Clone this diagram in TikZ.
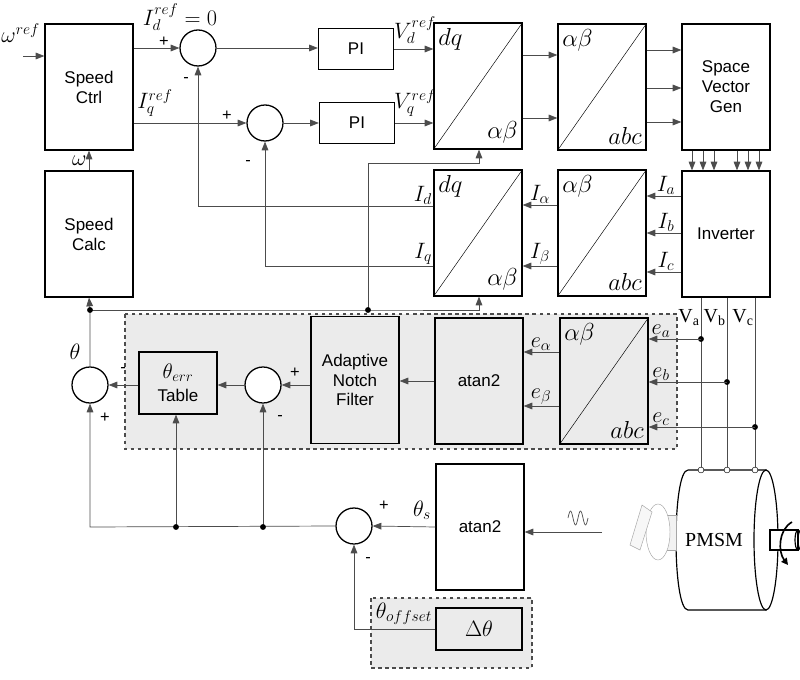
\RequirePackage{fix-cm}
\documentclass[tikz,border=0pt]{standalone}
\usepackage{fontspec}
\usetikzlibrary{arrows.meta}
\newfontfamily\arialf{Liberation Sans}
\newfontfamily\timesf{Liberation Serif}
\begin{document}
\begin{tikzpicture}[x=0.3mm, y=-0.3mm, >={Triangle[length=2.6mm,width=2mm]},
  blk/.style={draw, line width=1.1pt, fill=white, font=\arialf\fontsize{14.5}{17}\selectfont, align=center, minimum width=26.4mm, minimum height=37.8mm},
  gblk/.style={blk, fill=black!8},
  pi node/.style={blk, minimum width=22.5mm, minimum height=12.3mm},
  sum/.style={draw, line width=1.1pt, circle, fill=white, minimum size=10.8mm, inner sep=0pt},
  sig/.style={draw=black!70, line width=0.6pt},
  lbl/.style={font=\fontsize{19}{21}\selectfont, inner sep=1pt},
  sgn/.style={font=\arialf\fontsize{14}{16}\selectfont, inner sep=0pt},
  reg/.style={draw=black!70, dashed, line width=0.9pt, fill=black!8}]
  \useasboundingbox (0,0) rectangle (800,680);
  % shaded regions
  \draw[reg] (125,314) rectangle (677,449);
  \draw[reg] (371,598) rectangle (532,668);
  % blocks
  \node[blk] (SC) at (89,87) {Speed\\Ctrl};
  \node[blk] (CALC) at (89,234) {Speed\\Calc};
  \node[pi node] (PI1) at (356,49) {PI};
  \node[pi node] (PI2) at (357,123) {PI};
  \node[blk] (DQ1) at (478,86) {};
  \node[blk] (AB1) at (602,87) {};
  \node[blk] (SVG) at (726,87) {Space\\Vector\\Gen};
  \node[blk] (DQ2) at (478,233) {};
  \node[blk] (AB2) at (602,233) {};
  \node[blk] (INV) at (726,234) {Inverter};
  \node[gblk, minimum height=38mm] (ANF) at (355,380) {Adaptive\\Notch\\Filter};
  \node[gblk] (AT1) at (479,381) {atan2};
  \node[gblk] (AB3) at (604,381) {};
  \node[gblk, minimum width=23.4mm, minimum height=18.6mm] (TAB) at (178,383) {\fontsize{18}{20}\selectfont$\theta_{err}$\\[3pt]Table};
  \node[blk] (AT2) at (480,527) {atan2};
  \node[gblk, minimum width=25.8mm, minimum height=12.6mm, font=\fontsize{19}{21}\selectfont] (DT) at (479,629) {$\Delta\theta$};
  \node[sum] (S1) at (198,48) {};
  \node[sum] (S2) at (265,123) {};
  \node[sum] (S3) at (90,385) {};
  \node[sum] (S4) at (263,385) {};
  \node[sum] (S5) at (354,526) {};
  % transform diagonals and labels
  \foreach \b/\u/\l in {DQ1/dq/\alpha\beta, AB1/\alpha\beta/abc, DQ2/dq/\alpha\beta, AB2/\alpha\beta/abc, AB3/\alpha\beta/abc} {
    \draw[thin] (\b.south west) -- (\b.north east);
    \node[lbl, anchor=north west, font=\fontsize{21}{23}\selectfont] at ([shift={(3pt,-4pt)}]\b.north west) {$\u$};
    \node[lbl, anchor=south east, font=\fontsize{21}{23}\selectfont] at ([shift={(-3pt,4pt)}]\b.south east) {$\l$};
  }
  % reference paths
  \coordinate (WR) at (23,56);
  \draw[sig, ->] (WR) -- (WR -| SC.west);
  \node[lbl, anchor=south west] at (0,44) {$\omega^{ref}$};
  \draw[sig, ->] (SC.east |- S1) -- (S1.west);
  \node[lbl, inner sep=0pt] at (180,17) {$I_d^{ref}=0$};
  \node[sgn] at (164,42) {+};
  \draw[sig, ->] (S1.east) -- (S1.east -| PI1.west);
  \draw[sig, ->] (PI1.east) -- (PI1.east -| DQ1.west);
  \node[lbl] at (415,30) {$V_d^{ref}$};
  \draw[sig, ->] (SC.east |- S2) -- (S2.west);
  \node[lbl] at (155,103) {$I_q^{ref}$};
  \node[sgn] at (227,116) {+};
  \draw[sig, ->] (S2.east) -- (S2.east -| PI2.west);
  \draw[sig, ->] (PI2.east) -- (PI2.east -| DQ1.west);
  \node[lbl] at (415,103) {$V_q^{ref}$};
  \foreach \y in {55,118} \draw[sig, ->] (DQ1.east |- {(0,\y)}) -- (AB1.west |- {(0,\y)});
  \foreach \y in {50,88,122} \draw[sig, ->] (AB1.east |- {(0,\y)}) -- (SVG.west |- {(0,\y)});
  \foreach \x in {692,703,714,737,748,759} \draw[sig, ->] (SVG.south -| {(\x,0)}) -- (INV.north -| {(\x,0)});
  % current feedback
  \foreach \y/\n in {196/a,233/b,272/c} {
    \draw[sig, ->] (INV.west |- {(0,\y)}) -- (AB2.east |- {(0,\y)});
    \node[lbl, anchor=south] at (666,\y) {$I_\n$};
  }
  \foreach \y/\n in {205/\alpha,266/\beta} {
    \draw[sig, ->] (AB2.west |- {(0,\y)}) -- (DQ2.east |- {(0,\y)});
    \node[lbl, anchor=south] at (540,\y) {$I_\n$};
  }
  \draw[sig, ->] (DQ2.west |- {(0,206)}) -| (S1.south);
  \node[lbl, anchor=south east] at (DQ2.west |- {(0,206)}) {$I_d$};
  \node[sgn] at (186,80) {-};
  \draw[sig, ->] (DQ2.west |- {(0,266)}) -| (S2.south);
  \node[lbl, anchor=south east] at (DQ2.west |- {(0,266)}) {$I_q$};
  \node[sgn] at (248,163) {-};
  % angle distribution
  \coordinate (TH) at (90,310);
  \coordinate (TJ) at (368,310);
  \draw[sig, ->] (S3.north) -- (TH) -- (CALC.south);
  \draw[sig, ->] (TH) -- (TJ) -- (479,310) -- (DQ2.south -| {(479,0)});
  \draw[sig, ->] (TJ) -- (368,163) -- (479,163) -- (DQ1.south -| {(479,0)});
  \fill (TH) circle[radius=2.5pt] (TJ) circle[radius=2.5pt];
  \draw[sig, ->] (CALC.north) -- (SC.south);
  \node[lbl, anchor=east] at (88,161) {$\omega$};
  \node[lbl] at (75,352) {$\theta$};
  % observer chain
  \draw[sig, ->] (TAB.west |- S3) -- (S3.east);
  \node[sgn] at (123,370) {-};
  \draw[sig, ->] (S4.west) -- (TAB.east |- S4);
  \draw[sig, ->] (ANF.west |- S4) -- (S4.east);
  \node[sgn] at (295,373) {+};
  \draw[sig, ->] (AT1.west) -- (ANF.east |- AT1.west);
  \foreach \y/\n in {352/\alpha,406/\beta} {
    \draw[sig, ->] (AB3.west |- {(0,\y)}) -- (AT1.east |- {(0,\y)});
    \node[lbl, anchor=south] at (541,\y) {$e_\n$};
  }
  % phase voltages
  \foreach \x/\y/\n in {701/339/a,727/382/b,755/427/c} {
    \draw[sig] (INV.south -| {(\x,0)}) -- (\x,470);
    \fill (\x,\y) circle[radius=2.5pt];
    \draw[sig, ->] (\x,\y) -- (AB3.east |- {(0,\y)});
    \node[lbl, anchor=south] at (661,\y) {$e_\n$};
    \node[font=\timesf\fontsize{17}{19}\selectfont, anchor=east, inner sep=1pt] at (\x,318) {V\textsubscript{\n}};
  }
  % sensor angle
  \draw[sig, ->] (AT2.west) -- (S5.east);
  \node[lbl] at (422,510) {$\theta_s$};
  \node[sgn] at (384,506) {+};
  \coordinate (LB) at (90,527);
  \draw[sig, ->] (S5.west) -- (LB) -- (S3.south);
  \node[sgn] at (105,418) {+};
  \draw[sig, ->] (176,527) -- (TAB.south -| {(176,0)});
  \draw[sig, ->] (263,527) -- (S4.south);
  \node[sgn] at (280,418) {-};
  \fill (176,527) circle[radius=2.5pt] (263,527) circle[radius=2.5pt];
  \draw[sig, ->] (DT.west) -| (S5.south);
  \node[lbl] at (404,614) {$\theta_{offset}$};
  \node[sgn] at (368,560) {-};
  \coordinate (SN) at (602,532);
  \draw[sig, ->] (SN) -- (AT2.east |- SN);
  \draw[sig, domain=0:720, samples=40] plot ({568+\x/36}, {518-7*sin(\x)});
  % motor
  \draw[line width=1pt, fill=white] (688,470) -- (766,470) -- (766,610) -- (688,610) .. controls (672,610) and (672,470) .. (688,470);
  \draw[line width=1pt, fill=white] (766,540) ellipse[x radius=12, y radius=70];
  \node[font=\timesf\fontsize{17}{19}\selectfont] (PMSM) at (714,540) {PMSM};
  \draw[line width=1pt, fill=white] (770,530) rectangle (798,550);
  \draw[line width=1pt] (798,540) ellipse[x radius=3, y radius=10];
  \draw[line width=1.4pt, -{Triangle[length=2mm,width=2mm]}] (792,522) .. controls (778,530) and (778,552) .. (788,565);
  \foreach \x in {701,727,755} \draw[fill=white] (\x,470) circle[radius=2.5pt];
  % encoder sketch
  \draw[black!35, fill=black!5] (655,515) rectangle (676,550);
  \draw[black!35, fill=white] (658,532) ellipse[x radius=12, y radius=28];
  \draw[black!35, fill=black!3] (630,545) -- (642,505) -- (652,512) -- (640,550) -- cycle;
\end{tikzpicture}
\end{document}
